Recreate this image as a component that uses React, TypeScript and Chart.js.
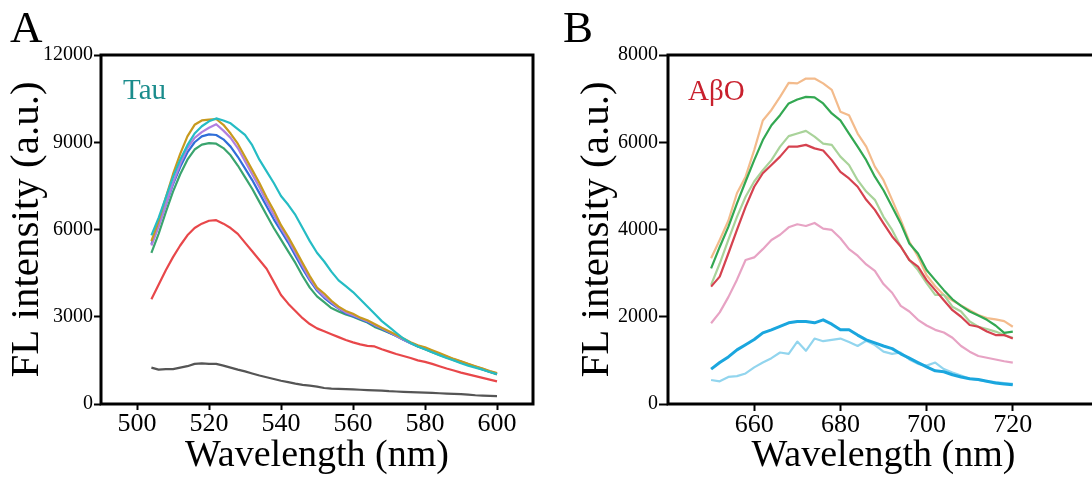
import React, { useEffect, useRef } from "react";
import { Chart, registerables } from "chart.js";

Chart.register(...registerables);

const SERIF = "'Liberation Serif', 'Times New Roman', serif";

// ---------- Panel A (Tau) ----------
const wavelengthsA = [
  504, 506, 508, 510, 512, 514, 516, 518, 520, 522,
  524, 526, 528, 530, 532, 534, 536, 538, 540, 542,
  544, 546, 548, 550, 552, 554, 556, 558, 560, 562,
  564, 566, 568, 570, 572, 574, 576, 578, 580, 582,
  584, 586, 588, 590, 592, 594, 596, 598, 600,
];
const tauTeal = [
  5800, 6400, 7100, 7800, 8400, 8900, 9300, 9550, 9720, 9820,
  9750, 9650, 9450, 9250, 8900, 8400, 8000, 7600, 7150, 6850,
  6500, 6050, 5600, 5200, 4900, 4550, 4250, 4050, 3850, 3600,
  3350, 3100, 2850, 2650, 2450, 2250, 2100, 1980, 1880, 1780,
  1680, 1580, 1500, 1400, 1320, 1250, 1180, 1100, 1030,
];
const tauGold = [
  5600, 6300, 7100, 7900, 8600, 9200, 9600, 9750, 9780, 9800,
  9600, 9300, 8950, 8500, 8050, 7600, 7100, 6650, 6150, 5750,
  5300, 4850, 4400, 4000, 3800, 3550, 3350, 3200, 3100, 2970,
  2880, 2750, 2620, 2500, 2380, 2250, 2120, 2020, 1950, 1850,
  1750, 1650, 1550, 1470, 1380, 1300, 1220, 1130, 1060,
];
const tauPurple = [
  5450, 6100, 6850, 7600, 8250, 8800, 9150, 9350, 9500, 9620,
  9400, 9150, 8800, 8350, 7900, 7450, 6950, 6500, 6050, 5650,
  5200, 4750, 4300, 3950, 3700, 3500, 3300, 3150, 3050, 2950,
  2850, 2720, 2600, 2480, 2350, 2220, 2100, 2000, 1920, 1820,
  1720, 1630, 1540, 1460, 1370, 1290, 1210, 1120, 1050,
];
const tauBlue = [
  5500, 6150, 6850, 7550, 8150, 8650, 9000, 9200, 9270, 9250,
  9100, 8850, 8500, 8100, 7700, 7250, 6800, 6350, 5950, 5550,
  5100, 4650, 4250, 3900, 3650, 3450, 3280, 3120, 3020, 2920,
  2820, 2700, 2580, 2460, 2340, 2210, 2090, 1990, 1900, 1800,
  1710, 1620, 1530, 1450, 1360, 1280, 1200, 1110, 1040,
];
const tauGreen = [
  5200, 5850, 6600, 7300, 7900, 8400, 8750, 8920, 8970, 8950,
  8800, 8550, 8200, 7800, 7400, 6950, 6500, 6050, 5650, 5250,
  4850, 4400, 4000, 3700, 3500, 3300, 3180, 3080, 3000, 2900,
  2800, 2650, 2550, 2450, 2350, 2220, 2100, 1980, 1880, 1780,
  1690, 1600, 1510, 1430, 1350, 1270, 1190, 1100, 1020,
];
const tauRed = [
  3600, 4100, 4600, 5050, 5450, 5800, 6050, 6200, 6300, 6320,
  6200, 6050, 5850, 5550, 5250, 4950, 4650, 4200, 3750, 3450,
  3200, 2950, 2750, 2600, 2500, 2400, 2300, 2200, 2120, 2050,
  2000, 1980, 1880, 1800, 1720, 1650, 1580, 1500, 1450, 1380,
  1300, 1220, 1150, 1080, 1020, 960, 900, 840, 780,
];
const tauGray = [
  1250, 1180, 1200, 1200, 1250, 1300, 1380, 1400, 1380, 1380,
  1320, 1250, 1180, 1120, 1050, 980, 920, 860, 800, 750,
  700, 660, 630, 600, 550, 530, 520, 510, 500, 490,
  480, 470, 460, 440, 430, 420, 410, 400, 390, 380,
  370, 360, 350, 340, 320, 300, 290, 280, 270,
];
const xTicksA = [500, 520, 540, 560, 580, 600];
const yTicksA = [0, 3000, 6000, 9000, 12000];

// ---------- Panel B (AβO) ----------
const wavelengthsB = [
  650, 652, 654, 656, 658, 660, 662, 664, 666, 668,
  670, 672, 674, 676, 678, 680, 682, 684, 686, 688,
  690, 692, 694, 696, 698, 700, 702, 704, 706, 708,
  710, 712, 714, 716, 718, 720,
];
const aboOrange = [
  3340, 3760, 4200, 4830, 5210, 5820, 6500, 6740, 7040, 7360,
  7350, 7460, 7460, 7350, 7200, 6700, 6620, 6200, 5900, 5440,
  5130, 4680, 4220, 3720, 3380, 2950, 2700, 2500, 2370, 2260,
  2150, 2040, 1970, 1940, 1900, 1770,
];
const aboGreen = [
  3110, 3600, 4060, 4600, 5100, 5590, 6050, 6390, 6620, 6890,
  6980, 7040, 7030, 6890, 6660, 6500, 6200, 5900, 5590, 5210,
  4900, 4520, 4140, 3680, 3450, 3070, 2840, 2610, 2400, 2250,
  2120, 2030, 1930, 1800, 1630, 1660,
];
const aboLightGreen = [
  2730, 3220, 3760, 4290, 4750, 5100, 5360, 5590, 5900, 6140,
  6200, 6260, 6130, 5970, 5940, 5670, 5480, 5130, 4870, 4680,
  4290, 3990, 3610, 3300, 3070, 2770, 2500, 2500, 2230, 2120,
  1890, 1770, 1720, 1660, 1580, 1520,
];
const aboRed = [
  2690, 2920, 3450, 3990, 4520, 4980, 5290, 5480, 5670, 5900,
  5900, 5940, 5860, 5810, 5590, 5320, 5170, 4980, 4680, 4450,
  4140, 3840, 3610, 3300, 3150, 2840, 2610, 2380, 2150, 2000,
  1810, 1770, 1660, 1580, 1580, 1500,
];
const aboPink = [
  1850, 2100, 2450, 2850, 3300, 3360, 3550, 3760, 3880, 4050,
  4120, 4080, 4150, 4020, 3990, 3800, 3550, 3400, 3200, 3050,
  2750, 2550, 2250, 2120, 1930, 1800, 1700, 1640, 1520, 1330,
  1200, 1100, 1060, 1020, 980, 950,
];
const aboBlue = [
  800, 950, 1080, 1240, 1360, 1480, 1630, 1700, 1780, 1860,
  1890, 1890, 1860, 1930, 1830, 1700, 1700, 1580, 1470, 1400,
  1330, 1270, 1150, 1050, 950, 850, 760, 740, 670, 620,
  580, 560, 520, 480, 460, 440,
];
const aboLightBlue = [
  550, 520, 620, 640, 700, 840, 950, 1050, 1180, 1150,
  1430, 1220, 1500, 1440, 1470, 1500, 1420, 1330, 1450, 1350,
  1200, 1150, 1180, 1020, 920, 880, 950, 800, 720, 650,
  580, 550, 520, 500, 480, 460,
];
const xTicksB = [660, 680, 700, 720];
const yTicksB = [0, 2000, 4000, 6000, 8000];

const pts = (xs: number[], ys: number[]) => xs.map((x, i) => ({ x, y: ys[i] }));

const frameAndLabels = {
  id: "frameAndLabels",
  afterDraw(chart: any, _args: any, opts: any) {
    const { ctx, chartArea } = chart;
    const { left, top, right, bottom } = chartArea;
    ctx.save();
    ctx.strokeStyle = "#000";
    ctx.lineWidth = 3;
    ctx.strokeRect(left, top, right - left, bottom - top);
    ctx.textAlign = "left";
    ctx.textBaseline = "alphabetic";
    ctx.fillStyle = "#000";
    ctx.font = `45px ${SERIF}`;
    ctx.fillText(opts.panel, opts.panelX, opts.panelY);
    ctx.fillStyle = opts.tagColor;
    ctx.font = `29px ${SERIF}`;
    ctx.fillText(opts.tag, left + opts.tagDX, top + opts.tagDY);
    ctx.restore();
  },
};

function makeScales(p: {
  xMin: number; xMax: number; xTicks: number[]; xTickLen: number;
  yMax: number; yTicks: number[]; yWidth: number; yTickLen: number; yTitlePad: number;
}) {
  return {
    x: {
      type: "linear",
      min: p.xMin,
      max: p.xMax,
      afterBuildTicks: (s: any) => { s.ticks = p.xTicks.map((v) => ({ value: v })); },
      afterFit: (s: any) => { s.height = 77; },
      grid: { display: true, drawOnChartArea: false, drawTicks: true, tickLength: p.xTickLen, tickWidth: 2, tickColor: "#000" },
      border: { display: false },
      ticks: {
        font: { family: SERIF, size: 26, lineHeight: 1.1 },
        color: "#000", padding: 0, maxRotation: 0, autoSkip: false,
        callback: (v: any) => String(v),
      },
      title: {
        display: true, text: "Wavelength (nm)", color: "#000",
        font: { family: SERIF, size: 38, lineHeight: 1.2 },
        padding: { top: 0, bottom: 2 },
      },
    },
    y: {
      type: "linear",
      min: 0,
      max: p.yMax,
      afterBuildTicks: (s: any) => { s.ticks = p.yTicks.map((v) => ({ value: v })); },
      afterFit: (s: any) => { s.width = p.yWidth; },
      grid: { display: true, drawOnChartArea: false, drawTicks: true, tickLength: p.yTickLen, tickWidth: 2, tickColor: "#000" },
      border: { display: false },
      ticks: {
        font: { family: SERIF, size: 20, lineHeight: 1.1 },
        color: "#000", padding: 1, autoSkip: false,
        callback: (v: any) => String(v),
      },
      title: {
        display: true, text: "FL intensity (a.u.)", color: "#000",
        font: { family: SERIF, size: 41, lineHeight: 1.2 },
        padding: { top: p.yTitlePad, bottom: 0 },
      },
    },
  };
}

const line = (label: string, xs: number[], ys: number[], color: string, width = 2.2) => ({
  label,
  data: pts(xs, ys),
  borderColor: color,
  backgroundColor: color,
  borderWidth: width,
  pointRadius: 0,
  tension: 0,
  fill: false,
  borderJoinStyle: "round",
});

function PanelChart({ config, width, height }: { config: any; width: number; height: number }) {
  const ref = useRef<HTMLCanvasElement | null>(null);
  useEffect(() => {
    if (!ref.current) return;
    const chart = new Chart(ref.current, config);
    return () => chart.destroy();
  }, [config]);
  return <canvas ref={ref} width={width} height={height} style={{ display: "block", width, height }} />;
}

const configA = {
  type: "line",
  data: {
    datasets: [
      line("Teal", wavelengthsA, tauTeal, "#25bcc4"),
      line("Gold", wavelengthsA, tauGold, "#c89a1e"),
      line("Purple", wavelengthsA, tauPurple, "#b07fe0"),
      line("Blue", wavelengthsA, tauBlue, "#2f6ed8"),
      line("Green", wavelengthsA, tauGreen, "#3aa46e"),
      line("Red", wavelengthsA, tauRed, "#e8474a"),
      line("Gray", wavelengthsA, tauGray, "#555555"),
    ],
  },
  options: {
    responsive: false,
    animation: false,
    devicePixelRatio: 1,
    layout: { padding: { top: 55, right: 13, bottom: 0, left: 0 } },
    plugins: {
      legend: { display: false },
      tooltip: { enabled: false },
      frameAndLabels: { panel: "A", panelX: 10, panelY: 42, tag: "Tau", tagColor: "#1a8c8c", tagDX: 22, tagDY: 44 },
    },
    scales: makeScales({
      xMin: 490, xMax: 610, xTicks: xTicksA, xTickLen: 6,
      yMax: 12000, yTicks: yTicksA, yWidth: 101, yTickLen: 7, yTitlePad: 3,
    }),
  },
  plugins: [frameAndLabels],
};

const configB = {
  type: "line",
  data: {
    datasets: [
      line("Blue", wavelengthsB, aboBlue, "#1aa6de", 3),
      line("Green", wavelengthsB, aboGreen, "#33a852"),
      line("Red", wavelengthsB, aboRed, "#d5424f"),
      line("Light green", wavelengthsB, aboLightGreen, "#a9d39a"),
      line("Orange", wavelengthsB, aboOrange, "#f3bb8c"),
      line("Pink", wavelengthsB, aboPink, "#e7a3c4"),
      line("Light blue", wavelengthsB, aboLightBlue, "#92d5ee"),
    ],
  },
  options: {
    responsive: false,
    animation: false,
    devicePixelRatio: 1,
    layout: { padding: { top: 55, right: 17, bottom: 0, left: 0 } },
    plugins: {
      legend: { display: false },
      tooltip: { enabled: false },
      frameAndLabels: { panel: "B", panelX: 17, panelY: 42, tag: "AβO", tagColor: "#c8202d", tagDX: 20, tagDY: 45 },
    },
    scales: makeScales({
      xMin: 640, xMax: 740, xTicks: xTicksB, xTickLen: 7,
      yMax: 8000, yTicks: yTicksB, yWidth: 122, yTickLen: 9, yTitlePad: 27,
    }),
  },
  plugins: [frameAndLabels],
};

export default function App() {
  return (
    <div
      style={{
        position: "fixed", left: 0, top: 0, width: 1092, height: 481,
        overflow: "hidden", background: "#fff",
      }}
    >
      <div style={{ position: "absolute", left: 0, top: 0 }}>
        <PanelChart config={configA} width={546} height={481} />
      </div>
      <div style={{ position: "absolute", left: 546, top: 0 }}>
        <PanelChart config={configB} width={570} height={481} />
      </div>
    </div>
  );
}
